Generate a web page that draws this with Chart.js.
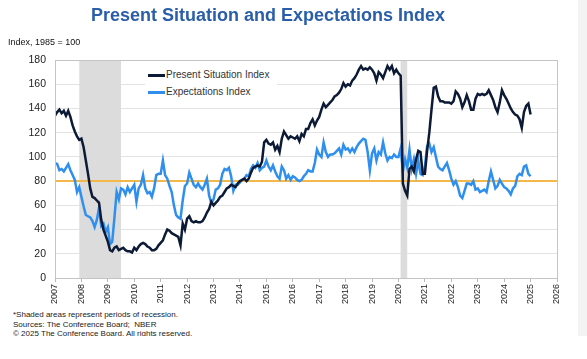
<!DOCTYPE html>
<html>
<head>
<meta charset="utf-8">
<script src="https://cdn.jsdelivr.net/npm/chart.js@4"></script>
<style>
  body { margin: 0; background: #fff; font-family: "Liberation Sans", Arial, sans-serif; }
  #page { position: relative; width: 587px; height: 359px; overflow: hidden; }
  #strip { position: absolute; left: 578px; top: 0; width: 9px; height: 336px; background: #f3f3f3; }
  #title { position: absolute; left: 0; width: 536px; top: 5px; text-align: center; font-weight: bold; font-size: 18px; color: #2a5ea8; }
  #unit { position: absolute; left: 8px; top: 37px; font-size: 9px; color: #111; }
  #wrap { position: absolute; left: 0; top: 0; width: 578px; height: 310px; }
  #legend { position: absolute; left: 145px; top: 65px; width: 132px; height: 36px; background: #fff; font-size: 10px; color: #333; }
  .row { position: absolute; left: 3px; height: 12px; line-height: 12px; }
  .row span.sw { display: inline-block; width: 17px; height: 3px; vertical-align: middle; margin-right: 1px; }
  #foot { position: absolute; left: 13px; top: 310px; width: 560px; height: 26px; overflow: hidden; font-size: 8px; line-height: 9.5px; color: #222; }
</style>
</head>
<body>
<div id="page">
  <div id="strip"></div>
  <div id="wrap"><canvas id="chart"></canvas></div>
  <div id="title">Present Situation and Expectations Index</div>
  <div id="unit">Index, 1985 = 100</div>
  <div id="legend">
    <div class="row" style="top:4px"><span class="sw" style="background:#0c1a35"></span>Present Situation Index</div>
    <div class="row" style="top:21px"><span class="sw" style="background:#2f8fef"></span>Expectations Index</div>
  </div>
  <div id="foot">*Shaded areas represent periods of recession.<br>Sources: The Conference Board;&nbsp; NBER<br>© 2025 The Conference Board. All rights reserved.</div>
</div>
<script>
// monthly values, Jan 2007 .. Jan 2025
const startYear = 2007;

const presentSituation = [
    134, 137, 139, 136, 138, 134, 138, 133, 126, 121, 117, 114, // 2007
    115, 108, 97, 86, 74, 67, 66, 64, 62, 48, 40, 35,           // 2008
    30, 23, 22, 25, 26, 23, 24, 25, 23, 22, 22, 21,             // 2009
    25, 23, 26, 28, 29, 28, 26, 25, 23, 23, 24, 27,             // 2010
    29, 31, 36, 40, 39, 37, 36, 35, 34, 27, 45, 40,             // 2011
    49, 51, 47, 46, 47, 46, 46, 47, 50, 54, 57, 63,             // 2012
    60, 62, 64, 67, 68, 71, 74, 75, 77, 76, 75, 78,             // 2013
    80, 81, 82, 80, 82, 87, 91, 92, 93, 92, 96, 112,            // 2014
    114, 111, 110, 112, 106, 109, 104, 115, 121, 118, 115, 117, // 2015
    116, 115, 117, 113, 119, 117, 123, 123, 128, 131, 126, 130, // 2016
    133, 139, 144, 141, 143, 145, 147, 150, 151, 153, 156, 161, // 2017
    158, 160, 159, 163, 165, 168, 172, 175, 172, 173, 172, 174, // 2018
    172, 169, 163, 170, 168, 165, 170, 175, 172, 175, 169, 172, // 2019
    169, 167, 78, 72, 68, 90, 92, 88, 98, 105, 104, 86,         // 2020
    86, 105, 120, 139, 157, 158, 150, 146, 146, 145, 145, 145,  // 2021
    144, 146, 154, 152, 148, 141, 145, 151, 146, 139, 139, 148, // 2022
    152, 151, 152, 151, 152, 155, 151, 147, 141, 137, 145, 155, // 2023
    151, 148, 144, 140, 137, 135, 134, 131, 124, 137, 142, 144, // 2024
    135                                                          // 2025
];

const expectations = [
    95, 94, 89, 90, 88, 91, 94, 89, 85, 81, 71, 75,             // 2007
    67, 59, 52, 51, 50, 47, 42, 48, 58, 43, 45, 38,             // 2008
    42, 28, 30, 50, 71, 65, 74, 73, 69, 75, 71, 74,             // 2009
    77, 63, 74, 77, 85, 74, 70, 71, 67, 74, 85, 86,             // 2010
    86, 97, 85, 82, 76, 71, 60, 52, 50, 49, 64, 76,             // 2011
    78, 87, 82, 77, 75, 78, 75, 73, 77, 82, 68, 62,             // 2012
    65, 73, 74, 77, 86, 90, 89, 91, 84, 72, 77, 77,             // 2013
    79, 81, 82, 85, 84, 90, 93, 91, 95, 89, 91, 92,             // 2014
    97, 92, 89, 93, 88, 84, 82, 92, 89, 82, 85, 81,             // 2015
    84, 83, 81, 80, 81, 84, 86, 89, 88, 88, 95, 106,            // 2016
    102, 100, 112, 104, 100, 102, 102, 103, 105, 107, 102, 110, // 2017
    106, 107, 104, 107, 104, 108, 111, 113, 115, 114, 104, 89,  // 2018
    103, 107, 97, 104, 102, 112, 103, 97, 100, 99, 102, 100,    // 2019
    100, 107, 88, 98, 91, 106, 90, 98, 86, 97, 86, 85,          // 2020
    92, 109, 111, 104, 108, 100, 92, 90, 89, 92, 95, 89,        // 2021
    82, 77, 80, 75, 68, 66, 72, 78, 78, 77, 80, 73,             // 2022
    74, 71, 72, 73, 71, 80, 88, 81, 74, 76, 81, 78,             // 2023
    75, 74, 72, 69, 74, 76, 84, 86, 85, 92, 93, 86,             // 2024
    84                                                           // 2025
];

// NBER recessions (fractional years)
const recessions = [[2007.92, 2009.5], [2020.08, 2020.33]];
const refLevel = 80;
const xRange = [2007, 2026];
const yRange = [0, 180];

const toPoints = (arr) => arr.map((v, i) => ({ x: startYear + i / 12, y: v }));

// shading + reference line + plot frame
const decorations = {
    id: 'decorations',
    beforeDatasetsDraw(chart) {
        const { ctx, chartArea: a, scales: { x, y } } = chart;
        ctx.save();
        ctx.fillStyle = '#dcdcdc';
        recessions.forEach(([s, e]) => {
            const x1 = x.getPixelForValue(s);
            const x2 = x.getPixelForValue(e);
            ctx.fillRect(x1, a.top, x2 - x1, a.bottom - a.top);
        });
        const yl = y.getPixelForValue(refLevel);
        ctx.strokeStyle = '#f4b84a';
        ctx.lineWidth = 2;
        ctx.beginPath();
        ctx.moveTo(a.left, yl);
        ctx.lineTo(a.right, yl);
        ctx.stroke();
        ctx.restore();
    },
    afterDraw(chart) {
        const { ctx, chartArea: a } = chart;
        ctx.save();
        ctx.strokeStyle = '#c4c4c4';
        ctx.lineWidth = 1;
        ctx.strokeRect(a.left + 0.5, a.top + 0.5, a.right - a.left, a.bottom - a.top);
        ctx.restore();
    },
};

const ctx = document.getElementById('chart').getContext('2d');
const chart = new Chart(ctx, {
    type: 'line',
    data: {
        datasets: [
            {
                label: 'Present Situation Index',
                data: toPoints(presentSituation),
                borderColor: '#0c1a35',
                borderWidth: 2.5,
                pointRadius: 0,
                tension: 0,
            },
            {
                label: 'Expectations Index',
                data: toPoints(expectations),
                borderColor: '#2f8fef',
                borderWidth: 2.5,
                pointRadius: 0,
                tension: 0,
            },
        ],
    },
    options: {
        responsive: true,
        maintainAspectRatio: false,
        animation: false,
        layout: { padding: { top: 60, right: 21, left: 0, bottom: 0 } },
        plugins: {
            legend: { display: false },
            tooltip: { enabled: false },
        },
        scales: {
            x: {
                type: 'linear',
                min: xRange[0],
                max: xRange[1],
                afterFit: (s) => { s.height = 32; },
                grid: { drawOnChartArea: false, drawTicks: true, tickLength: 4, color: '#b8b8b8' },
                border: { color: '#b8b8b8' },
                ticks: {
                    stepSize: 1,
                    minRotation: 90,
                    maxRotation: 90,
                    padding: 2,
                    color: '#222',
                    font: { family: 'Liberation Sans', size: 9 },
                    callback: (v) => String(v),
                },
            },
            y: {
                min: yRange[0],
                max: yRange[1],
                afterFit: (s) => { s.width = 55; },
                grid: { color: '#e3e3e3', drawTicks: false },
                border: { color: '#b8b8b8' },
                ticks: {
                    stepSize: 20,
                    padding: 9,
                    color: '#222',
                    font: { family: 'Liberation Sans', size: 10.5 },
                },
            },
        },
    },
    plugins: [decorations],
});
</script>
</body>
</html>
